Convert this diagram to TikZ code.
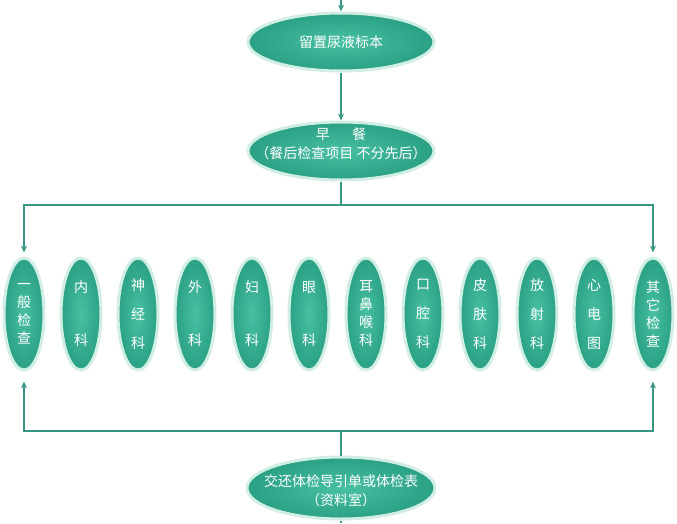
\documentclass[tikz,border=0pt]{standalone}
\usepackage{fontspec}
\setmainfont{Noto Sans CJK SC}
\usepackage{tikz}
\usetikzlibrary{arrows.meta, shapes.geometric, positioning}
\usepackage{xcolor}

\definecolor{tealline}{RGB}{58,150,132}
\definecolor{tealin}{RGB}{72,192,162}
\definecolor{tealout}{RGB}{42,160,132}
\definecolor{halo}{RGB}{208,238,228}

% shift two lines of text inside an ellipse without moving the ellipse
\newcommand{\liftlines}[2]{\raisebox{#1}[\height][\depth]{\begin{tabular}{@{}c@{}}#2\end{tabular}}}

\tikzset{
  bubble/.style={ellipse, inner sep=0pt, text=white, align=center,
    shading=radial, inner color=tealin, outer color=tealout,
    draw=halo, line width=3pt, font=\fontsize{14}{19}\selectfont},
  flatbox/.style={bubble, inner xsep=-32pt, minimum width=186pt, minimum height=58pt},
  tallbox/.style={bubble, minimum width=40pt, minimum height=112pt,
    font=\fontsize{14}{18}\selectfont},
  arr/.style={draw=tealline, line width=1.5pt, -{Stealth[length=7pt, width=6pt]}},
  bar/.style={draw=tealline, line width=1.5pt}
}

\begin{document}
\begin{tikzpicture}[x=1pt, y=-1pt]
  \useasboundingbox (0,0) rectangle (677,523);

  % main steps
  \node[flatbox] (urine) at (341,42) {留置尿液标本};
  \node[flatbox] (meal) at (341,151) {\liftlines{6pt}{早\hspace{1.6em}餐\\（餐后检查项目 不分先后）}};
  \node[flatbox, minimum width=188pt, minimum height=62pt] (hand) at (341,488) {\liftlines{-4pt}{交还体检导引单或体检表\\（资料室）}};

  % exam items
  \node[tallbox] (k1) at (24,314) {一\\般\\检\\查};
  \node[tallbox] (k2) at (81,314) {内\\[35pt]科};
  \node[tallbox] (k3) at (138,314) {神\\[11pt]经\\[11pt]科};
  \node[tallbox] (k4) at (195,314) {外\\[35pt]科};
  \node[tallbox] (k5) at (252,314) {妇\\[35pt]科};
  \node[tallbox] (k6) at (309,314) {眼\\[35pt]科};
  \node[tallbox] (k7) at (366,314) {耳\\鼻\\喉\\科};
  \node[tallbox] (k8) at (423,314) {口\\[11pt]腔\\[11pt]科};
  \node[tallbox] (k9) at (480,314) {皮\\[11pt]肤\\[11pt]科};
  \node[tallbox] (k10) at (537,314) {放\\[11pt]射\\[11pt]科};
  \node[tallbox] (k11) at (594,314) {心\\[11pt]电\\[11pt]图};
  \node[tallbox] (k12) at (653,314) {其\\它\\检\\查};

  % free ends and bars
  \coordinate (start) at (341,0);
  \coordinate (finish) at (341,523);
  \coordinate (topbar) at (341,205);
  \coordinate (lowbar) at (341,431);

  % connectors
  \draw[arr] (start) -- (urine.north);
  \draw[arr] (urine.south) -- (meal.north);
  \draw[bar] (meal.south) -- (topbar);
  \draw[arr, shorten >=4pt] (topbar) -| (k1.north);
  \draw[arr, shorten >=4pt] (topbar) -| (k12.north);
  \draw[bar] (hand.north) -- (lowbar);
  \draw[arr, shorten >=10pt] (lowbar) -| (k1.south);
  \draw[arr, shorten >=10pt] (lowbar) -| (k12.south);
  \draw[bar] (hand.south) -- (finish);
\end{tikzpicture}
\end{document}
